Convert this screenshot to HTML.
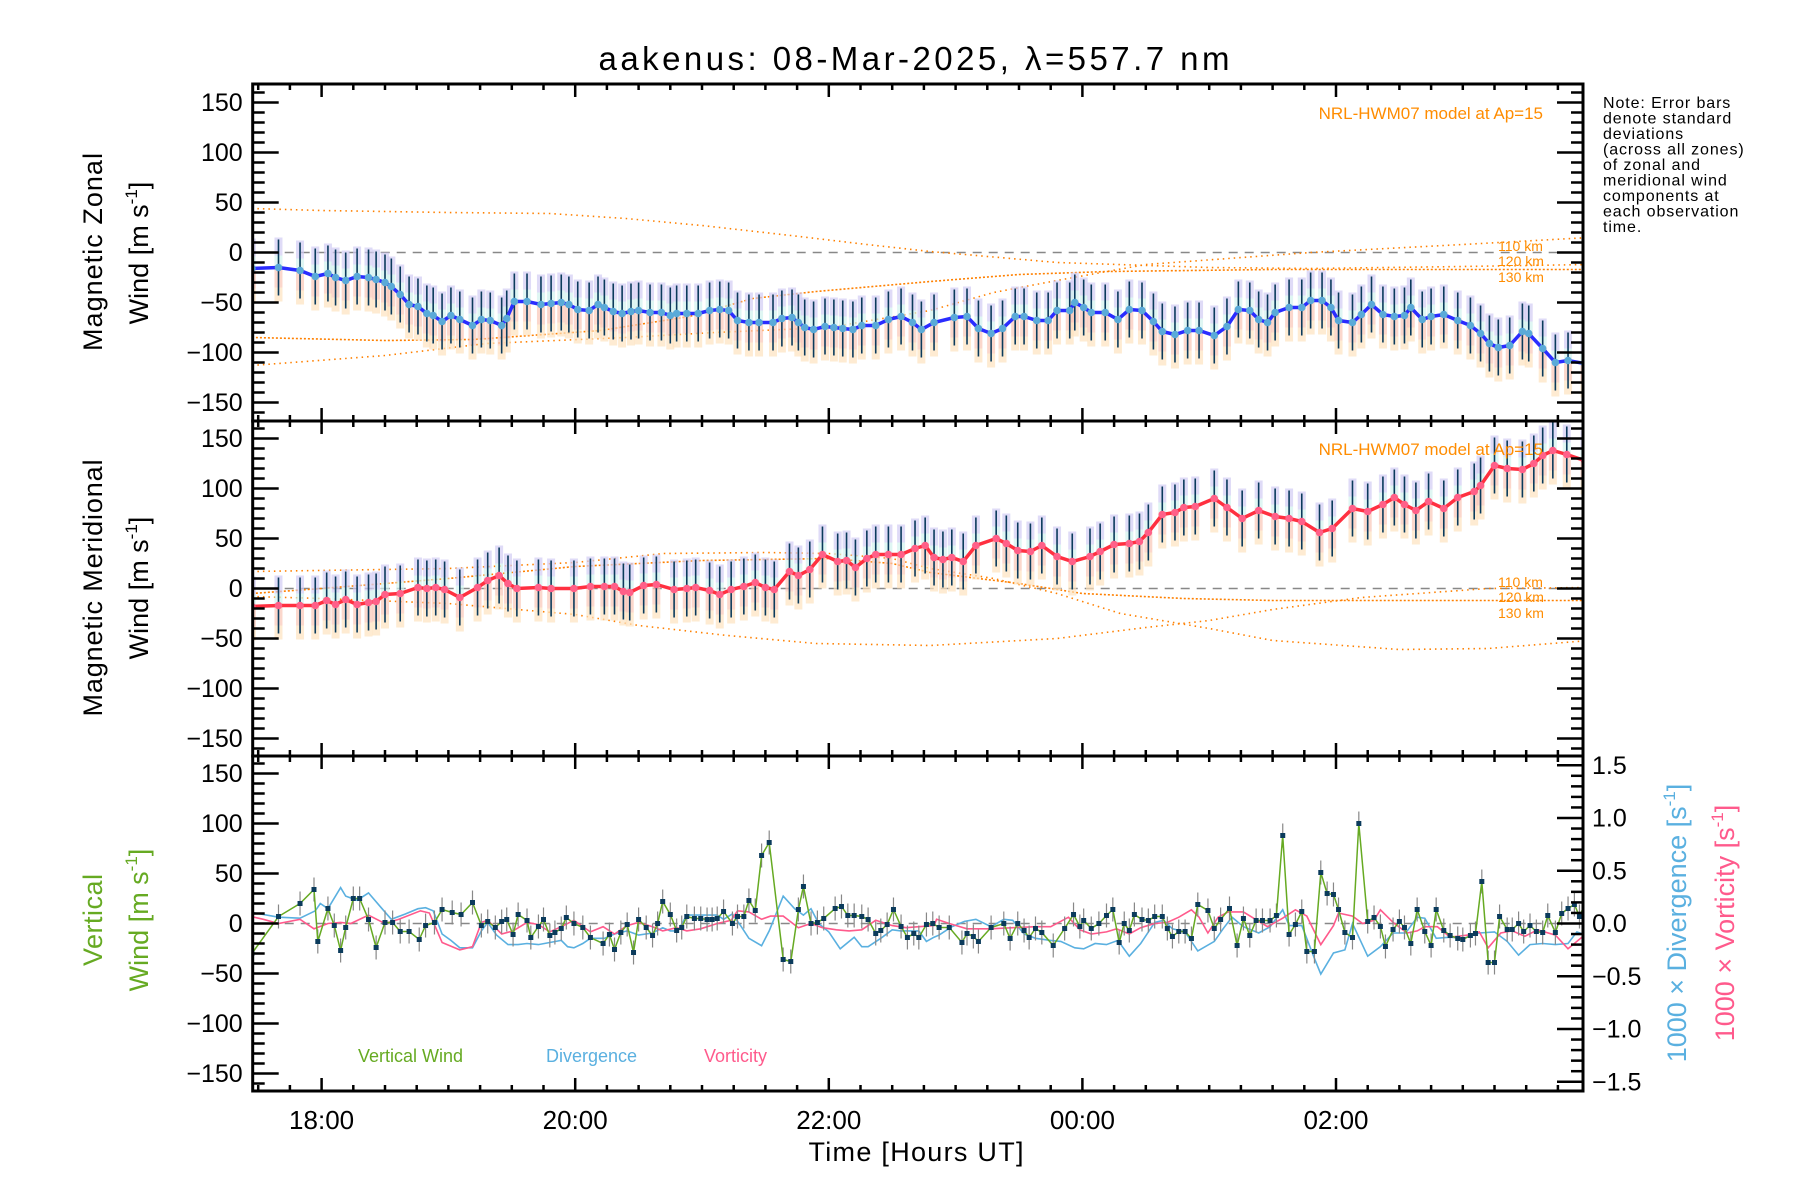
<!DOCTYPE html>
<html><head><meta charset="utf-8"><title>aakenus winds</title>
<style>
html,body{margin:0;padding:0;background:#fff;}
svg{display:block;font-family:"Liberation Sans",sans-serif;}
</style></head>
<body>
<svg id="chart" width="1800" height="1200" viewBox="0 0 1800 1200">
<rect width="1800" height="1200" fill="#fff"/>
<text x="914" y="70" font-size="33" text-anchor="middle" textLength="631">aakenus: 08-Mar-2025, λ=557.7 nm</text>
<g font-size="16" letter-spacing="0.9">
<text x="1603" y="108">Note: Error bars</text>
<text x="1603" y="123.5">denote standard</text>
<text x="1603" y="139">deviations</text>
<text x="1603" y="154.5">(across all zones)</text>
<text x="1603" y="170">of zonal and</text>
<text x="1603" y="185.5">meridional wind</text>
<text x="1603" y="201">components at</text>
<text x="1603" y="216.5">each observation</text>
<text x="1603" y="232">time.</text>
</g>
<g id="plots"></g>
<g id="axes"></g>
<text transform="translate(102,252) rotate(-90)" font-size="27" text-anchor="middle" textLength="198">Magnetic Zonal</text>
<text transform="translate(148,253) rotate(-90)" font-size="27" text-anchor="middle">Wind [m s<tspan font-size="17" dy="-11">-1</tspan><tspan dy="11">]</tspan></text>
<text transform="translate(102,588) rotate(-90)" font-size="27" text-anchor="middle" textLength="257">Magnetic Meridional</text>
<text transform="translate(148,588) rotate(-90)" font-size="27" text-anchor="middle">Wind [m s<tspan font-size="17" dy="-11">-1</tspan><tspan dy="11">]</tspan></text>
<text transform="translate(102,920) rotate(-90)" font-size="27" fill="#66aa22" text-anchor="middle" textLength="92">Vertical</text>
<text transform="translate(148,920) rotate(-90)" font-size="27" fill="#66aa22" text-anchor="middle">Wind [m s<tspan font-size="17" dy="-11">-1</tspan><tspan dy="11">]</tspan></text>
<text transform="translate(1686,923) rotate(-90)" font-size="27" fill="#5ab0e0" text-anchor="middle">1000 × Divergence [s<tspan font-size="17" dy="-11">-1</tspan><tspan dy="11">]</tspan></text>
<text transform="translate(1734,923) rotate(-90)" font-size="27" fill="#ff5a8c" text-anchor="middle">1000 × Vorticity [s<tspan font-size="17" dy="-11">-1</tspan><tspan dy="11">]</tspan></text>
<text x="916" y="1161" font-size="27" text-anchor="middle" textLength="215">Time [Hours UT]</text>
<g font-size="18">
<text x="358" y="1062" fill="#66aa22">Vertical Wind</text>
<text x="546" y="1062" fill="#5ab0e0">Divergence</text>
<text x="704" y="1062" fill="#ff5a8c">Vorticity</text>
</g>
<g font-size="17" fill="#ff8c00" text-anchor="end">
<text x="1543" y="119">NRL-HWM07 model at Ap=15</text>
<text x="1543" y="455">NRL-HWM07 model at Ap=15</text>
</g>
<g font-size="14" fill="#ff8c00">
<text x="1498" y="251">110 km</text>
<text x="1498" y="266">120 km</text>
<text x="1498" y="282">130 km</text>
<text x="1498" y="587">110 km</text>
<text x="1498" y="602">120 km</text>
<text x="1498" y="618">130 km</text>
</g>
</svg>
<script>
// ---------- DATA ----------
const zonalTimes=[17.45,17.66,17.83,17.95,18.05,18.11,18.19,18.28,18.37,18.43,18.50,18.55,18.62,18.69,18.76,18.83,18.88,18.95,19.02,19.09,19.19,19.26,19.33,19.42,19.46,19.52,19.62,19.73,19.81,19.89,19.95,20.02,20.11,20.18,20.23,20.30,20.37,20.44,20.50,20.59,20.68,20.75,20.80,20.88,20.97,21.06,21.14,21.21,21.28,21.37,21.45,21.56,21.63,21.71,21.76,21.81,21.88,21.97,22.04,22.11,22.19,22.26,22.37,22.47,22.57,22.66,22.73,22.83,22.99,23.09,23.18,23.28,23.37,23.47,23.54,23.64,23.73,23.80,23.90,23.94,24.01,24.07,24.18,24.28,24.37,24.47,24.56,24.63,24.73,24.83,24.92,25.04,25.14,25.23,25.32,25.39,25.46,25.52,25.63,25.73,25.80,25.89,25.96,26.02,26.13,26.20,26.28,26.37,26.46,26.54,26.59,26.68,26.75,26.85,26.96,27.06,27.14,27.21,27.28,27.37,27.47,27.52,27.63,27.73,27.83,27.96];
const zonalValues=[-16,-15,-18,-24,-21,-25,-28,-24,-25,-27,-30,-34,-42,-52,-54,-61,-63,-69,-63,-67,-73,-67,-68,-73,-66,-49,-49,-52,-51,-50,-52,-57,-58,-52,-55,-59,-61,-59,-58,-60,-60,-63,-61,-61,-61,-58,-57,-58,-68,-70,-70,-70,-66,-65,-70,-75,-77,-74,-75,-76,-77,-73,-73,-67,-64,-70,-77,-70,-65,-64,-76,-81,-76,-64,-64,-68,-68,-58,-58,-50,-55,-60,-60,-67,-57,-58,-69,-79,-82,-78,-78,-83,-74,-57,-58,-67,-70,-60,-55,-55,-48,-48,-55,-68,-70,-62,-52,-62,-64,-63,-55,-67,-64,-62,-68,-73,-81,-91,-95,-93,-79,-81,-96,-110,-108,-111];
const meridTimes=[17.45,17.66,17.83,17.95,18.04,18.11,18.19,18.28,18.37,18.43,18.50,18.62,18.76,18.83,18.90,18.97,19.09,19.23,19.31,19.40,19.47,19.54,19.71,19.81,19.99,20.12,20.23,20.31,20.38,20.43,20.54,20.64,20.78,20.88,20.95,21.06,21.14,21.23,21.33,21.42,21.50,21.57,21.69,21.76,21.85,21.95,22.07,22.14,22.21,22.30,22.37,22.47,22.57,22.68,22.76,22.83,22.90,22.97,23.06,23.16,23.32,23.40,23.49,23.59,23.68,23.80,23.92,24.06,24.14,24.25,24.37,24.45,24.52,24.63,24.73,24.80,24.89,25.04,25.14,25.26,25.39,25.52,25.63,25.73,25.87,25.97,26.13,26.25,26.37,26.46,26.54,26.63,26.73,26.85,26.96,27.09,27.14,27.25,27.35,27.47,27.56,27.63,27.71,27.82,27.96];
const meridValues=[-18,-17,-17,-17,-12,-16,-11,-16,-14,-13,-6,-5,1,0,1,-1,-9,1,8,13,5,0,1,0,0,2,2,2,-3,-4,3,4,-1,0,1,-2,-6,-1,2,6,1,-1,17,13,19,34,27,28,21,30,34,34,34,40,43,31,29,31,27,43,50,45,38,37,43,32,27,32,37,44,45,47,56,74,76,81,82,90,81,70,78,72,70,67,56,60,80,77,84,91,84,78,87,80,91,97,103,123,120,119,125,133,138,134,128];
const windErr=28;
const modelZ110T=[17.45,18.5,19.3,20.4,21.1,22,22.8,23.3,23.8,24.5,25.8,27,28];
const modelZ110V=[-113,-103,-91,-85,-80,-75,-58,-40,-28,-12,0,8,15];
const modelZ120T=[17.45,18,19,19.8,20.4,21,21.7,22.3,22.8,23.8,25,25.8,27,28];
const modelZ120V=[44,42,40,39,34,27,17,8,1,-10,-15,-16,-14,-12];
const modelZ130T=[17.45,18.5,19.2,20.2,20.9,21.4,21.9,22.8,23.5,24.2,25.5,28];
const modelZ130V=[-85,-88,-87,-78,-64,-46,-39,-29,-22,-19,-17,-17];
const modelM1T=[17.45,19,20,20.7,21.5,22,22.5,22.8,23.3,23.8,24.3,25,25.5,26.5,27.2,28];
const modelM1V=[17,20,26,35,36,35,30,20,10,-5,-25,-40,-52,-61,-60,-52];
const modelM2T=[17.45,18,19,20,21,22,22.5,22.8,23.5,24,24.8,25.5,28];
const modelM2V=[-5,0,10,22,28,30,25,16,5,-5,-10,-12,-12];
const modelM3T=[17.45,18,19,20,20.5,21.2,21.9,22.8,23.8,24.5,25,25.5,26.2,27.2,28];
const modelM3V=[-8,-10,-15,-26,-37,-47,-55,-57,-50,-39,-32,-21,-9,0,1];
const vertTimes=[17.45,17.66,17.83,17.94,17.97,18.05,18.10,18.15,18.19,18.25,18.30,18.37,18.43,18.50,18.56,18.62,18.69,18.77,18.82,18.89,18.95,19.03,19.10,19.19,19.26,19.31,19.37,19.42,19.46,19.51,19.55,19.62,19.65,19.71,19.75,19.80,19.84,19.89,19.93,19.99,20.06,20.12,20.22,20.27,20.31,20.36,20.41,20.46,20.50,20.56,20.61,20.65,20.69,20.75,20.80,20.84,20.88,20.94,20.99,21.04,21.08,21.12,21.17,21.24,21.28,21.33,21.37,21.42,21.47,21.53,21.64,21.70,21.76,21.80,21.86,21.91,21.96,22.05,22.10,22.15,22.20,22.26,22.31,22.37,22.41,22.46,22.51,22.57,22.62,22.67,22.71,22.77,22.82,22.87,22.95,23.05,23.09,23.14,23.18,23.28,23.38,23.43,23.49,23.54,23.58,23.63,23.68,23.77,23.86,23.93,23.98,24.01,24.07,24.13,24.19,24.24,24.29,24.33,24.37,24.41,24.47,24.52,24.57,24.63,24.67,24.71,24.76,24.81,24.86,24.91,24.99,25.04,25.09,25.16,25.22,25.27,25.32,25.37,25.42,25.48,25.53,25.58,25.63,25.68,25.73,25.77,25.83,25.88,25.93,25.98,26.02,26.07,26.13,26.18,26.25,26.30,26.35,26.39,26.45,26.50,26.54,26.59,26.64,26.70,26.75,26.79,26.85,26.90,26.96,27.00,27.06,27.10,27.15,27.20,27.25,27.29,27.35,27.39,27.44,27.48,27.53,27.58,27.63,27.67,27.73,27.78,27.83,27.88,27.92,27.97];
const vertValues=[-30,7,20,34,-18,15,-2,-27,-4,25,25,4,-24,1,1,-8,-8,-16,-2,1,14,11,9,21,-2,2,-4,2,4,-11,9,3,-14,-3,4,-12,-9,-5,6,0,-4,-14,-20,-11,-26,-9,-1,-29,4,-4,-12,0,22,9,-7,-4,7,5,5,4,4,5,12,0,7,7,23,13,68,81,-36,-38,14,37,0,1,5,15,17,8,8,7,4,-10,-7,-1,14,-3,-14,-10,-14,-1,0,-4,-4,-19,-10,-13,-18,-4,0,-15,0,-7,-14,-5,-9,-22,-5,9,-3,3,-5,0,8,14,-19,0,-7,9,4,3,7,7,-5,-13,-8,-8,-15,19,13,-5,4,15,-22,5,-12,3,3,3,8,88,-11,-1,12,-28,-28,51,30,29,14,-9,-14,100,2,6,-3,-23,-6,2,-4,-20,14,-8,-22,14,-7,-12,-15,-16,-12,-10,42,-39,-39,7,-6,-6,0,-8,-2,-8,-9,8,-9,10,15,19,7,22];
const vertErr=12;
const divTimes=[17.43,17.66,17.83,17.95,17.99,18.05,18.15,18.19,18.28,18.37,18.47,18.55,18.66,18.76,18.82,18.88,18.95,19.02,19.09,19.19,19.26,19.31,19.38,19.47,19.55,19.62,19.71,19.80,19.89,19.94,19.99,20.06,20.12,20.23,20.31,20.41,20.50,20.61,20.69,20.75,20.81,20.88,20.99,21.12,21.17,21.24,21.31,21.37,21.47,21.53,21.64,21.73,21.80,21.86,21.92,22.00,22.09,22.20,22.26,22.31,22.41,22.50,22.57,22.71,22.77,22.83,22.87,22.97,23.07,23.16,23.28,23.38,23.45,23.54,23.63,23.75,23.83,23.94,24.01,24.10,24.19,24.28,24.37,24.46,24.57,24.64,24.71,24.81,24.91,25.04,25.11,25.18,25.27,25.39,25.48,25.58,25.63,25.73,25.83,25.88,25.98,26.07,26.13,26.25,26.35,26.45,26.55,26.64,26.70,26.79,26.90,27.01,27.13,27.25,27.35,27.44,27.53,27.63,27.73,27.83,27.90,27.97];
const divValues=[0.11,0.06,0.05,0.12,0.19,0.14,0.34,0.26,0.22,0.29,0.15,0.04,0.09,0.14,0.15,0.12,-0.10,-0.16,-0.23,-0.23,-0.07,0.01,-0.11,-0.20,-0.20,-0.19,-0.20,-0.18,-0.16,-0.22,-0.23,-0.19,-0.14,-0.14,-0.10,-0.07,-0.11,-0.09,-0.04,-0.07,-0.07,0.08,0.08,0.08,0.04,0.09,-0.03,-0.14,-0.21,-0.07,0.26,0.14,0.08,0.14,0.00,-0.08,-0.24,-0.13,-0.22,-0.22,-0.14,-0.06,-0.07,-0.07,-0.17,-0.13,-0.11,-0.03,0.02,0.04,-0.03,0.04,0.03,-0.10,-0.14,-0.16,-0.17,-0.23,-0.24,-0.19,-0.20,-0.16,-0.31,-0.19,0.01,0.03,-0.05,-0.08,-0.26,-0.17,-0.05,0.06,-0.03,-0.09,-0.03,0.13,-0.02,-0.02,-0.33,-0.48,-0.28,-0.25,0.00,-0.31,-0.22,-0.09,-0.09,0.06,0.05,-0.14,-0.13,-0.14,-0.09,-0.08,-0.17,-0.30,-0.20,-0.19,-0.20,-0.19,-0.08,-0.11];
const vorTimes=[17.43,17.54,17.66,17.83,17.94,18.05,18.15,18.23,18.37,18.50,18.61,18.78,18.85,18.95,19.09,19.19,19.26,19.31,19.42,19.51,19.62,19.71,19.80,19.89,19.99,20.12,20.22,20.31,20.41,20.50,20.61,20.69,20.80,20.88,20.99,21.12,21.23,21.28,21.37,21.47,21.54,21.64,21.76,21.86,21.95,22.06,22.16,22.26,22.37,22.50,22.61,22.71,22.83,22.85,22.95,23.09,23.28,23.45,23.63,23.75,23.89,23.98,24.07,24.19,24.27,24.37,24.46,24.57,24.67,24.76,24.86,24.92,24.99,25.07,25.15,25.27,25.35,25.46,25.58,25.68,25.77,25.88,25.98,26.02,26.13,26.21,26.30,26.35,26.45,26.56,26.64,26.70,26.80,26.90,27.04,27.13,27.20,27.30,27.39,27.49,27.59,27.73,27.83,27.90,27.97];
const vorValues=[0.07,0.04,0.00,0.04,-0.05,0.00,0.01,0.00,0.08,0.00,0.04,0.12,0.10,-0.18,-0.25,-0.22,0.01,0.03,-0.10,-0.07,0.01,-0.01,-0.08,-0.03,0.03,-0.08,-0.03,-0.10,-0.02,0.01,-0.03,-0.07,-0.04,-0.07,-0.05,0.00,0.03,0.12,0.11,0.04,0.07,0.07,-0.04,0.00,-0.04,-0.06,-0.07,-0.06,0.03,-0.02,-0.04,-0.03,-0.02,0.04,0.00,-0.05,-0.05,-0.04,-0.03,-0.03,0.06,-0.06,-0.10,-0.08,-0.05,-0.10,-0.04,0.00,0.01,0.06,0.13,0.06,-0.09,0.06,0.11,0.11,0.05,-0.03,0.05,0.13,0.07,-0.20,-0.02,0.10,0.07,0.00,0.03,0.13,0.01,-0.09,-0.07,-0.03,-0.03,-0.13,-0.11,-0.08,-0.23,-0.09,-0.07,-0.12,-0.06,-0.11,-0.24,-0.17,-0.10];
const windTicks=[-150,-100,-50,0,50,100,150];
const ratioTicks=[-1.5,-1.0,-0.5,0.0,0.5,1.0,1.5];
const timeTicks=[18,20,22,24,26];
const timeTickLabels=["18:00","20:00","22:00","00:00","02:00"];

// ---------- LAYOUT ----------
const NS="http://www.w3.org/2000/svg";
const L=252.7,R=1583;
const panels=[{top:84,bot:421},{top:421,bot:756},{top:756,bot:1091}];
const xS=t=>321.6+(t-18)*126.8;
const yS=(p,v)=>(panels[p].top+panels[p].bot)/2 - v*1.0;
const yR=v=>(panels[2].top+panels[2].bot)/2 - v*105.5;
const plots=document.getElementById('plots');
const axes=document.getElementById('axes');
function mk(tag,attrs,parent){const e=document.createElementNS(NS,tag);for(const k in attrs)e.setAttribute(k,attrs[k]);(parent||plots).appendChild(e);return e;}

const defs=mk('defs',{});
panels.forEach((p,i)=>{const c=mk('clipPath',{id:'clip'+i},defs);mk('rect',{x:L,y:p.top,width:R-L,height:p.bot-p.top},c);});

panels.forEach((p,i)=>{
  const z=mk('line',{x1:L,x2:R,y1:yS(i,0),y2:yS(i,0),stroke:'#888',"stroke-width":1.5,"stroke-dasharray":'9 7'});
  
  
});

function linePath(ts,vs,yf){return ts.map((t,i)=>(i?'L':'M')+xS(t).toFixed(1)+' '+yf(vs[i]).toFixed(1)).join(' ');}

function drawModel(p,ts,vs,name,dense){
  const g=mk('path',{d:linePath(ts,vs,v=>yS(p,v)),fill:'none',stroke:'#ff8000',"stroke-width":1.6,"stroke-dasharray":dense?'2 2':'1.5 4',"clip-path":'url(#clip'+p+')'});
  
  
}

function drawWindPanel(p,ts,vs,lineColor,dotColor,name){
  const gb=mk('g',{"clip-path":'url(#clip'+p+')'});
  
  
  const bands=[[12,30,'#d2ccf4'],[2,12,'#d2f2ee'],[-20,2,'#fac6b6'],[-34,-20,'#fde2bf']];
  ts.forEach((t,i)=>{
    bands.forEach(b=>{
      const y1=yS(p,vs[i]+b[1]),y2=yS(p,vs[i]+b[0]);
      const r=mk('rect',{x:xS(t)-4,y:y1,width:8,height:y2-y1,fill:b[2],opacity:0.7},gb);
      
      
    });
  });
  const ge=mk('g',{"clip-path":'url(#clip'+p+')'});
  
  
  ts.forEach((t,i)=>{
    const e=mk('line',{x1:xS(t),x2:xS(t),y1:yS(p,vs[i]+windErr),y2:yS(p,vs[i]-windErr),stroke:'#0b3b5c',"stroke-width":1.6},ge);
    
    
  });
  const ln=mk('path',{d:linePath(ts,vs,v=>yS(p,v)),fill:'none',stroke:lineColor,"stroke-width":3.5,"clip-path":'url(#clip'+p+')'});
  
  
  const gd=mk('g',{"clip-path":'url(#clip'+p+')'});
  
  
  ts.forEach((t,i)=>{
    const c=mk('circle',{cx:xS(t),cy:yS(p,vs[i]),r:3.8,fill:dotColor},gd);
    
    
  });
}

drawModel(0,modelZ110T,modelZ110V,'model-zonal-110km',false);
drawModel(0,modelZ120T,modelZ120V,'model-zonal-120km',false);
drawModel(0,modelZ130T,modelZ130V,'model-zonal-130km',true);
drawWindPanel(0,zonalTimes,zonalValues,'#2a2cff','#5aaad8','zonal');
drawModel(1,modelM1T,modelM1V,'model-meridional-110km',false);
drawModel(1,modelM2T,modelM2V,'model-meridional-120km',true);
drawModel(1,modelM3T,modelM3V,'model-meridional-130km',false);
drawWindPanel(1,meridTimes,meridValues,'#ff3040','#ff6088','meridional');

const dv=mk('path',{d:linePath(divTimes,divValues,yR),fill:'none',stroke:'#5ab0e0',"stroke-width":1.6,"clip-path":'url(#clip2)'});


const vo=mk('path',{d:linePath(vorTimes,vorValues,yR),fill:'none',stroke:'#ff5a8c',"stroke-width":1.6,"clip-path":'url(#clip2)'});


const gv=mk('g',{"clip-path":'url(#clip2)'});


vertTimes.forEach((t,i)=>{
  const e=mk('line',{x1:xS(t),x2:xS(t),y1:yS(2,vertValues[i]+vertErr),y2:yS(2,vertValues[i]-vertErr),stroke:'#888',"stroke-width":1.2},gv);
  
  
});
const vw=mk('path',{d:linePath(vertTimes,vertValues,v=>yS(2,v)),fill:'none',stroke:'#66aa22',"stroke-width":1.5,"clip-path":'url(#clip2)'});


const gp=mk('g',{"clip-path":'url(#clip2)'});


vertTimes.forEach((t,i)=>{
  const m=mk('rect',{x:xS(t)-2.5,y:yS(2,vertValues[i])-2.5,width:5,height:5,fill:'#0b3b5c'},gp);
  
  
});

// ---------- AXES ----------
function ax(tag,attrs){return mk(tag,attrs,axes);}
panels.forEach((p,i)=>{
  const fr=ax('rect',{x:L,y:p.top,width:R-L,height:p.bot-p.top,fill:'none',stroke:'#000',"stroke-width":3});
  
  
  for(let v=-160;v<=160;v+=10){
    const y=yS(i,v); const major=v%50===0; const len=major?26:12;
    ax('line',{x1:L,x2:L+len,y1:y,y2:y,stroke:'#000',"stroke-width":2.5});
    if(i<2) ax('line',{x1:R,x2:R-len,y1:y,y2:y,stroke:'#000',"stroke-width":2.5});
  }
  windTicks.forEach(v=>{
    const t=ax('text',{x:L-10,y:yS(i,v)+8.5,"font-size":25,"text-anchor":'end'});
    t.textContent=(v<0?'\u2212':'')+Math.abs(v);
    
    
  });
  for(let t=17.5;t<=28.01;t+=0.25){
    const x=xS(t); if(x<L||x>R) continue;
    const major=Math.abs(t/2-Math.round(t/2))<1e-6; const len=major?13:6;
    ax('line',{x1:x,x2:x,y1:p.top,y2:p.top+len,stroke:'#000',"stroke-width":2.5});
    ax('line',{x1:x,x2:x,y1:p.bot,y2:p.bot-len,stroke:'#000',"stroke-width":2.5});
  }
});
for(let k=-15;k<=15;k++){
  const v=k/10; const y=yR(v); const major=k%5===0; const len=major?26:12;
  ax('line',{x1:R,x2:R-len,y1:y,y2:y,stroke:'#000',"stroke-width":2.5});
}
ratioTicks.forEach(v=>{
  const t=ax('text',{x:1592,y:yR(v)+8.5,"font-size":25});
  t.textContent=(v<0?'\u2212':'')+Math.abs(v).toFixed(1);
  
  
});
timeTicks.forEach((t,i)=>{
  const tx=ax('text',{x:xS(t),y:1129,"font-size":26,"text-anchor":'middle'});
  tx.textContent=timeTickLabels[i];
  
  
});
</script>
</body></html>
